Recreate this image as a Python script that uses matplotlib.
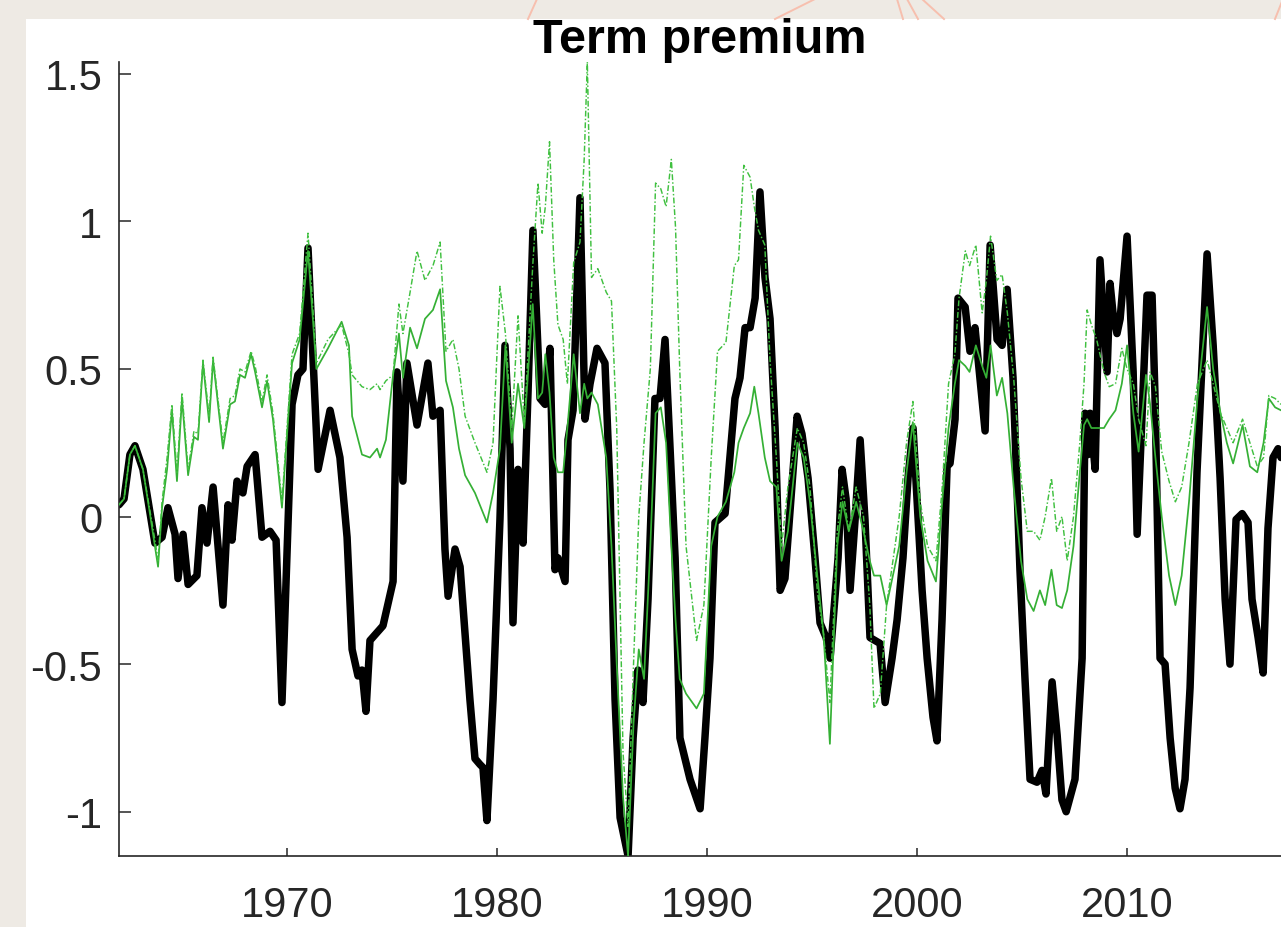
import matplotlib.pyplot as plt
from matplotlib.patches import Rectangle
from matplotlib.lines import Line2D

# term premium, model estimate (black) and two alternative estimates (green)
tp_years = [
    1962.00, 1962.24, 1962.52, 1962.76, 1963.14, 1963.71, 1964.05, 1964.33, 1964.67, 1964.81,
    1965.05, 1965.29, 1965.71, 1965.95, 1966.19, 1966.48, 1966.95, 1967.19, 1967.38, 1967.62,
    1967.90, 1968.10, 1968.48, 1968.81, 1969.19, 1969.48, 1969.76, 1970.24, 1970.52, 1970.76,
    1971.00, 1971.48, 1972.05, 1972.52, 1972.86, 1973.10, 1973.38, 1973.57, 1973.76, 1973.95,
    1974.57, 1975.05, 1975.24, 1975.52, 1975.71, 1976.19, 1976.71, 1976.95, 1977.29, 1977.52,
    1977.67, 1978.00, 1978.24, 1978.71, 1978.95, 1979.19, 1979.33, 1979.52, 1979.81, 1980.14,
    1980.38, 1980.62, 1980.76, 1981.00, 1981.24, 1981.48, 1981.71, 1982.05, 1982.29, 1982.52,
    1982.76, 1982.90, 1983.24, 1983.38, 1983.62, 1983.95, 1984.19, 1984.43, 1984.76, 1985.14,
    1985.38, 1985.62, 1985.86, 1986.24, 1986.48, 1986.71, 1986.95, 1987.19, 1987.52, 1987.76,
    1988.00, 1988.24, 1988.48, 1988.71, 1989.19, 1989.67, 1989.90, 1990.14, 1990.38, 1990.86,
    1991.33, 1991.57, 1991.81, 1992.05, 1992.29, 1992.52, 1992.76, 1993.00, 1993.24, 1993.48,
    1993.71, 1994.29, 1994.52, 1994.81, 1995.14, 1995.38, 1995.67, 1995.86, 1996.24, 1996.43,
    1996.62, 1996.81, 1997.05, 1997.29, 1997.52, 1997.76, 1998.24, 1998.48, 1998.81, 1999.05,
    1999.33, 1999.57, 1999.81, 2000.05, 2000.24, 2000.48, 2000.76, 2000.95, 2001.19, 2001.43,
    2001.57, 2001.81, 2001.95, 2002.29, 2002.52, 2002.76, 2003.24, 2003.48, 2003.81, 2004.05,
    2004.29, 2004.57, 2004.90, 2005.14, 2005.38, 2005.71, 2005.95, 2006.14, 2006.43, 2006.67,
    2006.90, 2007.10, 2007.52, 2007.86, 2008.00, 2008.14, 2008.24, 2008.48, 2008.71, 2009.05,
    2009.19, 2009.33, 2009.52, 2009.67, 2010.00, 2010.29, 2010.48, 2010.95, 2011.19, 2011.33,
    2011.57, 2011.81, 2012.05, 2012.29, 2012.52, 2012.76, 2013.00, 2013.33, 2013.81, 2014.10,
    2014.43, 2014.67, 2014.90, 2015.19, 2015.48, 2015.76, 2015.95, 2016.24, 2016.48, 2016.71,
    2016.95, 2017.19, 2017.33,
]
tp_model = [
    0.04, 0.06, 0.21, 0.24, 0.16, -0.09, -0.07, 0.03, -0.06, -0.21,
    -0.06, -0.23, -0.20, 0.03, -0.09, 0.10, -0.30, 0.04, -0.08, 0.12,
    0.08, 0.17, 0.21, -0.07, -0.05, -0.08, -0.63, 0.38, 0.48, 0.50,
    0.91, 0.16, 0.36, 0.20, -0.07, -0.45, -0.54, -0.52, -0.66, -0.42,
    -0.37, -0.22, 0.49, 0.12, 0.52, 0.31, 0.52, 0.34, 0.36, -0.11,
    -0.27, -0.11, -0.17, -0.62, -0.82, -0.84, -0.85, -1.03, -0.62, -0.01,
    0.58, 0.23, -0.36, 0.16, -0.09, 0.43, 0.97, 0.40, 0.38, 0.57,
    -0.18, -0.14, -0.22, 0.26, 0.36, 1.08, 0.33, 0.45, 0.57, 0.52,
    0.09, -0.62, -1.02, -1.15, -0.75, -0.52, -0.63, -0.28, 0.40, 0.40,
    0.60, 0.23, -0.14, -0.75, -0.89, -0.99, -0.75, -0.48, -0.02, 0.01,
    0.40, 0.47, 0.64, 0.64, 0.74, 1.10, 0.81, 0.67, 0.30, -0.25,
    -0.21, 0.34, 0.28, 0.13, -0.14, -0.36, -0.41, -0.48, -0.14, 0.16,
    0.06, -0.25, -0.01, 0.26, -0.01, -0.41, -0.43, -0.63, -0.48, -0.35,
    -0.14, 0.13, 0.30, -0.01, -0.25, -0.48, -0.68, -0.76, -0.35, 0.17,
    0.18, 0.33, 0.74, 0.71, 0.56, 0.64, 0.29, 0.92, 0.60, 0.58,
    0.77, 0.47, -0.18, -0.55, -0.89, -0.90, -0.86, -0.94, -0.56, -0.74,
    -0.96, -1.00, -0.89, -0.48, 0.35, 0.21, 0.35, 0.16, 0.87, 0.49,
    0.79, 0.69, 0.62, 0.67, 0.95, 0.49, -0.06, 0.75, 0.75, 0.41,
    -0.48, -0.50, -0.75, -0.92, -0.99, -0.89, -0.58, 0.15, 0.89, 0.58,
    0.13, -0.28, -0.50, -0.01, 0.01, -0.02, -0.28, -0.41, -0.53, -0.04,
    0.20, 0.23, 0.20,
]

alt_years = [
    1962.00, 1962.24, 1962.52, 1962.76, 1963.14, 1963.45, 1963.71, 1963.86, 1964.05, 1964.29,
    1964.52, 1964.76, 1965.00, 1965.29, 1965.57, 1965.76, 1966.00, 1966.29, 1966.48, 1966.95,
    1967.29, 1967.52, 1967.76, 1968.00, 1968.29, 1968.48, 1968.81, 1969.05, 1969.33, 1969.76,
    1970.24, 1970.60, 1971.00, 1971.40, 1971.95, 1972.60, 1972.95, 1973.10, 1973.57, 1973.95,
    1974.29, 1974.43, 1974.71, 1975.05, 1975.33, 1975.52, 1975.86, 1976.19, 1976.57, 1976.95,
    1977.29, 1977.57, 1977.90, 1978.19, 1978.48, 1978.95, 1979.52, 1979.81, 1980.14, 1980.40,
    1980.70, 1981.00, 1981.30, 1981.70, 1981.95, 1982.15, 1982.30, 1982.50, 1982.70, 1982.90,
    1983.15, 1983.35, 1983.65, 1983.95, 1984.15, 1984.30, 1984.50, 1984.80, 1985.20, 1985.45,
    1985.70, 1986.00, 1986.24, 1986.50, 1986.75, 1987.00, 1987.30, 1987.55, 1987.80, 1988.05,
    1988.30, 1988.50, 1988.70, 1989.00, 1989.50, 1989.85, 1990.20, 1990.50, 1990.90, 1991.30,
    1991.50, 1991.75, 1992.05, 1992.25, 1992.45, 1992.75, 1993.00, 1993.30, 1993.55, 1993.85,
    1994.30, 1994.60, 1994.90, 1995.25, 1995.55, 1995.85, 1996.20, 1996.45, 1996.75, 1997.10,
    1997.45, 1997.75, 1997.95, 1998.25, 1998.55, 1998.85, 1999.15, 1999.50, 1999.80, 2000.15,
    2000.50, 2000.90, 2001.20, 2001.50, 2001.80, 2002.00, 2002.30, 2002.50, 2002.80, 2003.10,
    2003.30, 2003.50, 2003.80, 2004.05, 2004.30, 2004.60, 2004.95, 2005.25, 2005.55, 2005.85,
    2006.10, 2006.40, 2006.65, 2006.90, 2007.15, 2007.45, 2007.75, 2007.95, 2008.10, 2008.30,
    2008.55, 2008.90, 2009.15, 2009.45, 2009.75, 2010.00, 2010.30, 2010.55, 2010.90, 2011.10,
    2011.35, 2011.65, 2012.00, 2012.30, 2012.60, 2012.95, 2013.35, 2013.81, 2014.10, 2014.45,
    2014.75, 2015.05, 2015.50, 2015.85, 2016.20, 2016.50, 2016.75, 2017.05, 2017.33,
]
tp_alt_a = [
    0.04, 0.06, 0.21, 0.24, 0.16, 0.02, -0.10, -0.17, 0.03, 0.16,
    0.36, 0.12, 0.40, 0.14, 0.27, 0.26, 0.52, 0.32, 0.53, 0.23,
    0.38, 0.39, 0.48, 0.47, 0.55, 0.49, 0.37, 0.46, 0.33, 0.03,
    0.52, 0.60, 0.90, 0.50, 0.57, 0.66, 0.58, 0.34, 0.21, 0.20,
    0.23, 0.20, 0.26, 0.48, 0.62, 0.47, 0.64, 0.57, 0.67, 0.70,
    0.77, 0.46, 0.37, 0.23, 0.14, 0.08, -0.02, 0.08, 0.23, 0.58,
    0.25, 0.45, 0.30, 0.72, 0.40, 0.42, 0.55, 0.42, 0.20, 0.15,
    0.15, 0.30, 0.55, 0.35, 0.45, 0.40, 0.42, 0.38, 0.20, -0.10,
    -0.50, -0.95, -1.15, -0.70, -0.45, -0.55, -0.10, 0.35, 0.37, 0.25,
    -0.10, -0.35, -0.55, -0.60, -0.65, -0.60, -0.10, 0.00, 0.05, 0.15,
    0.25, 0.30, 0.35, 0.44, 0.35, 0.20, 0.12, 0.10, -0.15, -0.05,
    0.25, 0.20, 0.05, -0.20, -0.40, -0.77, -0.10, 0.05, -0.05, 0.05,
    -0.05, -0.15, -0.20, -0.20, -0.30, -0.20, -0.10, 0.15, 0.32, 0.00,
    -0.15, -0.22, 0.05, 0.30, 0.45, 0.53, 0.51, 0.49, 0.58, 0.51,
    0.47, 0.58, 0.41, 0.47, 0.35, 0.10, -0.15, -0.28, -0.32, -0.25,
    -0.30, -0.18, -0.30, -0.31, -0.25, -0.10, 0.15, 0.31, 0.33, 0.30,
    0.30, 0.30, 0.33, 0.36, 0.45, 0.58, 0.35, 0.22, 0.48, 0.38,
    0.20, 0.00, -0.20, -0.30, -0.20, 0.05, 0.40, 0.71, 0.50, 0.35,
    0.25, 0.18, 0.31, 0.17, 0.15, 0.25, 0.40, 0.37, 0.36,
]
tp_alt_b = [
    0.04, 0.06, 0.21, 0.24, 0.16, 0.03, -0.08, -0.15, 0.05, 0.20,
    0.38, 0.15, 0.42, 0.16, 0.29, 0.28, 0.53, 0.34, 0.54, 0.25,
    0.40, 0.41, 0.50, 0.49, 0.56, 0.51, 0.39, 0.48, 0.35, 0.05,
    0.55, 0.62, 0.96, 0.52, 0.60, 0.65, 0.55, 0.48, 0.44, 0.43,
    0.45, 0.43, 0.46, 0.48, 0.72, 0.62, 0.76, 0.90, 0.80, 0.85,
    0.93, 0.56, 0.60, 0.50, 0.34, 0.25, 0.15, 0.25, 0.78, 0.62,
    0.30, 0.68, 0.32, 0.85, 1.13, 0.96, 1.05, 1.27, 0.87, 0.65,
    0.60, 0.45, 0.86, 0.93, 1.21, 1.54, 0.81, 0.84, 0.76, 0.73,
    0.30, -0.80, -1.05, -0.50, 0.00, 0.25, 0.50, 1.13, 1.11, 1.05,
    1.21, 0.98, 0.50, -0.10, -0.42, -0.30, 0.20, 0.56, 0.59, 0.85,
    0.87, 1.19, 1.15, 1.05, 0.97, 0.92, 0.53, 0.20, -0.10, 0.10,
    0.30, 0.25, 0.10, -0.25, -0.40, -0.63, -0.05, 0.10, -0.05, 0.10,
    0.00, -0.30, -0.65, -0.60, -0.30, -0.15, 0.00, 0.25, 0.39, 0.05,
    -0.10, -0.15, 0.10, 0.45, 0.55, 0.74, 0.90, 0.85, 0.92, 0.69,
    0.80, 0.95, 0.80, 0.82, 0.69, 0.47, 0.13, -0.05, -0.05, -0.08,
    0.00, 0.13, -0.05, 0.00, -0.15, 0.00, 0.25, 0.45, 0.70, 0.65,
    0.60, 0.49, 0.44, 0.45, 0.57, 0.50, 0.45, 0.33, 0.24, 0.49,
    0.44, 0.22, 0.12, 0.05, 0.10, 0.25, 0.45, 0.53, 0.45, 0.35,
    0.30, 0.25, 0.33, 0.25, 0.17, 0.20, 0.41, 0.40, 0.38,
]

year_ticks = [1970, 1980, 1990, 2000, 2010]
value_ticks = [-1, -0.5, 0, 0.5, 1, 1.5]
value_labels = ['-1', '-0.5', '0', '0.5', '1', '1.5']

plt.rcParams['font.family'] = ['Liberation Sans', 'DejaVu Sans']

fig = plt.figure(figsize=(12.81, 9.28), dpi=100, facecolor='#eeeae4')
# white slide panel behind the axes
fig.add_artist(Rectangle((26 / 1281, 0), 1 - 26 / 1281, 1 - 20 / 928,
                         transform=fig.transFigure, facecolor='white',
                         edgecolor='none', zorder=0))
# thin salmon rays of the slide background along the top strip
for x0, x1 in [(537, 528), (815, 775), (897, 903), (907, 918), (922, 944), (1283, 1275)]:
    fig.add_artist(Line2D([x0 / 1281, x1 / 1281], [1.0, 1 - 20 / 928],
                          transform=fig.transFigure, color='#f7bfae', lw=1.4, zorder=0))

ax = fig.add_axes([119 / 1281, 71 / 928, 1 - 119 / 1281, 794 / 928])
ax.set_facecolor('white')

ax.plot(tp_years, tp_model, color='black', lw=5.4,
        solid_joinstyle='round', solid_capstyle='round', zorder=2)
ax.plot(alt_years, tp_alt_a, color='#35b035', lw=1.25, zorder=3)
ax.plot(alt_years, tp_alt_b, color='#40c040', lw=1.05,
        linestyle=(0, (4, 1.5, 1, 1.5)), zorder=3)

ax.set_xlim(1962.0, 2017.33)
ax.set_ylim(-1.15, 1.54)
ax.set_xticks(year_ticks)
ax.set_yticks(value_ticks)
ax.set_yticklabels(value_labels)

for side in ['top', 'right']:
    ax.spines[side].set_visible(False)
for side in ['left', 'bottom']:
    ax.spines[side].set_color('#262626')
    ax.spines[side].set_linewidth(1.2)

ax.tick_params(axis='both', direction='in', colors='#262626', labelsize=30, width=1.1)
ax.tick_params(axis='y', length=8.5, pad=12)
ax.tick_params(axis='x', length=6, pad=21)

ax.set_title('Term premium', fontsize=35, fontweight='bold', pad=0)

fig.savefig('out.png', dpi=100, facecolor=fig.get_facecolor())
